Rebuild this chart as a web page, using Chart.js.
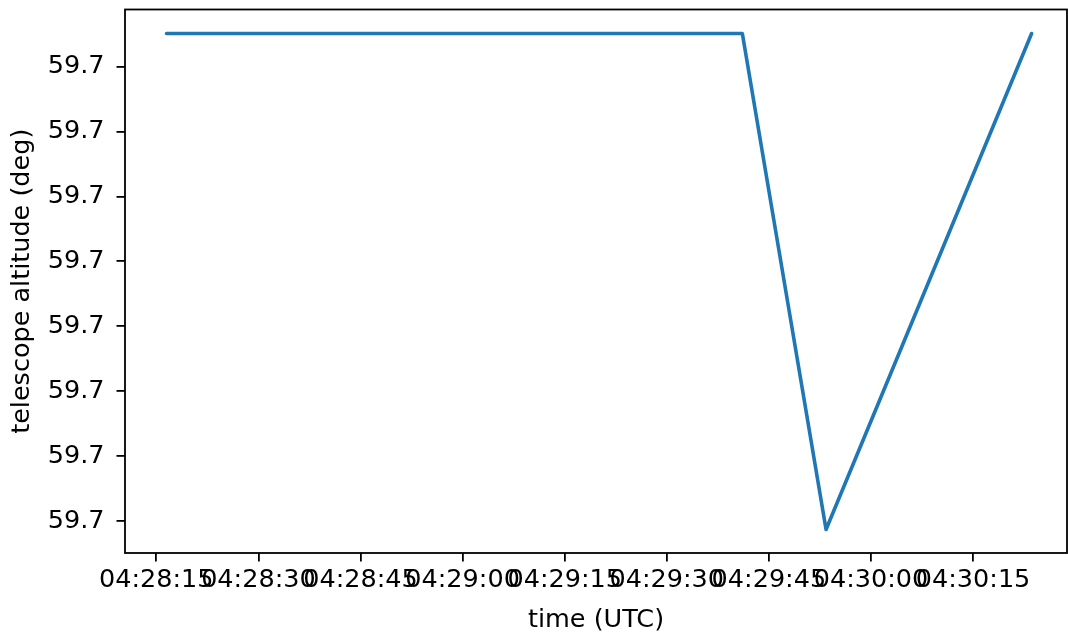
<!DOCTYPE html>
<html>
<head>
<meta charset="utf-8">
<script src="https://cdn.jsdelivr.net/npm/chart.js@4/dist/chart.umd.min.js"></script>
<style>
  html, body { margin: 0; padding: 0; background: #fff; }
  #wrap { width: 1068px; height: 636px; }
</style>
</head>
<body>
<div id="wrap"><canvas id="viz" width="1068" height="636"></canvas></div>
<script>
// telescope altitude over time
const times = ['04:28:16.5', '04:29:41.1', '04:29:53.4', '04:30:23.6'];
const altitudes = [59.7000751, 59.7000751, 59.6999987, 59.7000751];

// tick positions
const xTickLabels = ['04:28:15', '04:28:30', '04:28:45', '04:29:00', '04:29:15', '04:29:30', '04:29:45', '04:30:00', '04:30:15'];
const yTickValues = [59.70000, 59.70001, 59.70002, 59.70003, 59.70004, 59.70005, 59.70006, 59.70007];

// seconds since 04:28:00
function toSec(t) {
  const p = t.split(':').map(Number);
  return (p[0] - 4) * 3600 + (p[1] - 28) * 60 + p[2];
}
function fmtSec(s) {
  const total = Math.round(s) + 4 * 3600 + 28 * 60;
  const h = Math.floor(total / 3600), m = Math.floor((total % 3600) / 60), sec = total % 60;
  return [h, m, sec].map(v => String(v).padStart(2, '0')).join(':');
}

const points = times.map((t, i) => ({ x: toSec(t), y: altitudes[i] }));
const xTicks = xTickLabels.map(toSec);

// matplotlib-like box around the axes
const frame = {
  id: 'frame',
  afterDraw(chart) {
    const a = chart.chartArea, c = chart.ctx;
    c.save();
    c.strokeStyle = '#000';
    c.lineWidth = 1.8;
    c.strokeRect(a.left, a.top, a.right - a.left, a.bottom - a.top);
    c.restore();
  }
};

const font = { family: 'DejaVu Sans', size: 25.5 };
const ctx = document.getElementById('viz');

new Chart(ctx, {
  type: 'line',
  data: {
    datasets: [{
      data: points,
      borderColor: '#1f77b4',
      borderWidth: 3.6,
      pointRadius: 0,
      tension: 0,
      borderCapStyle: 'round',
      borderJoinStyle: 'round'
    }]
  },
  options: {
    responsive: false,
    animation: false,
    devicePixelRatio: 1,
    layout: { padding: { top: 9.5, right: 1, left: 0, bottom: 0 } },
    plugins: { legend: { display: false }, tooltip: { enabled: false } },
    scales: {
      x: {
        type: 'linear',
        min: 10.4,
        max: 148.8,
        afterBuildTicks: scale => { scale.ticks = xTicks.map(v => ({ value: v })); },
        afterFit: scale => { scale.height = 83; },
        border: { display: false },
        grid: { drawOnChartArea: false, drawTicks: true, tickLength: 8.5, tickColor: '#000', lineWidth: 1.8 },
        ticks: {
          autoSkip: false, maxRotation: 0, padding: 4, color: '#000', font,
          callback: v => fmtSec(v)
        },
        title: { display: true, text: 'time (UTC)', color: '#000', font, padding: { top: 0, bottom: 0 } }
      },
      y: {
        min: 59.69999507,
        max: 59.7000788,
        afterBuildTicks: scale => { scale.ticks = yTickValues.map(v => ({ value: v })); },
        afterFit: scale => { scale.width = 125; scale.paddingTop = 0; scale.paddingBottom = 0; },
        border: { display: false },
        grid: { drawOnChartArea: false, drawTicks: true, tickLength: 8.5, tickColor: '#000', lineWidth: 1.8 },
        ticks: { padding: 12, color: '#000', font, callback: v => v.toFixed(1) },
        title: { display: true, text: 'telescope altitude (deg)', color: '#000', font, padding: { top: 7, bottom: 0 } }
      }
    }
  },
  plugins: [frame]
});
</script>
</body>
</html>
